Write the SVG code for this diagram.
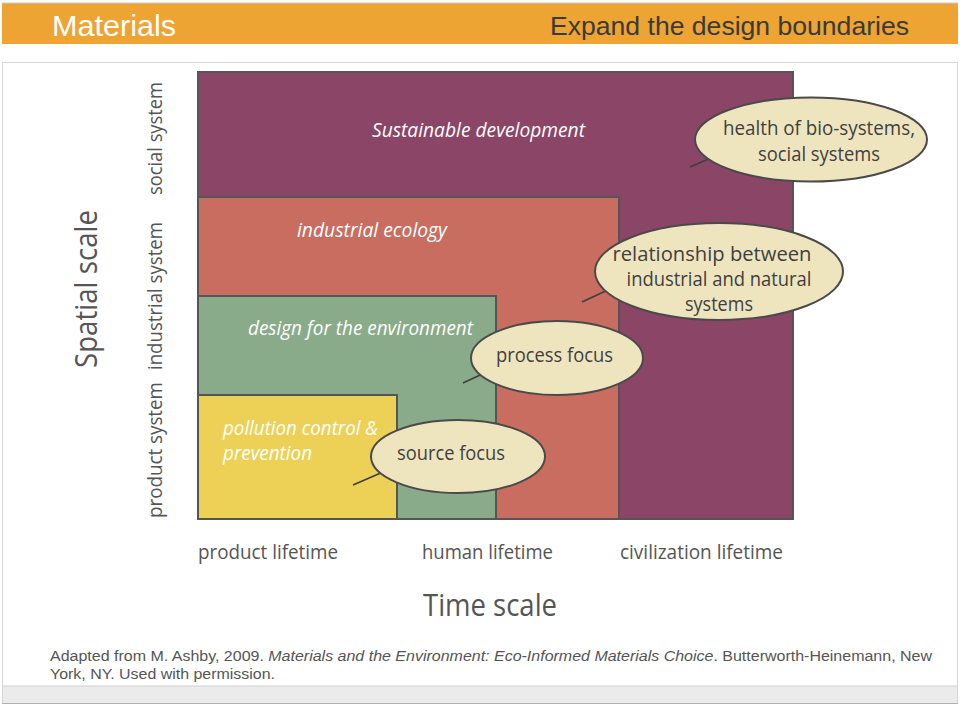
<svg xmlns="http://www.w3.org/2000/svg" width="960" height="720" viewBox="0 0 960 720">
<style>
.box{stroke:#555;stroke-width:2}
.bubble{fill:#EEE5BF;stroke:#4a4a4a;stroke-width:2}
.tail{stroke:#3f3f3f;stroke-width:1.6;fill:none}
.lab{font-family:"Open Sans","Noto Sans",sans-serif;font-style:italic;fill:#fff;font-size:20px}
.bt{font-family:"Open Sans","Noto Sans",sans-serif;fill:#3f3f3f;font-size:20px;text-anchor:middle}
.ax{font-family:"Open Sans","Noto Sans",sans-serif;fill:#555;font-size:20px}
.big{font-family:"Open Sans","Noto Sans",sans-serif;fill:#555;font-size:31px}
.foot{font-family:"Liberation Sans",Arial,sans-serif;fill:#555;font-size:15.5px}
</style>
<rect width="960" height="720" fill="#fff"/>
<g id="header">
<rect x="2" y="3" width="956" height="41" fill="#EDA433"/>
<line x1="2" y1="3" x2="958" y2="3" stroke="#c9c9c9" stroke-width="1"/>
<text x="52" y="36" font-family="'Liberation Sans',Arial,sans-serif" font-size="30" fill="#fff" textLength="124" lengthAdjust="spacingAndGlyphs">Materials</text>
<text x="550" y="35" font-family="'Liberation Sans',Arial,sans-serif" font-size="26.5" fill="#3a3a3a" textLength="359" lengthAdjust="spacingAndGlyphs">Expand the design boundaries</text>
</g>
<g id="panel">
<rect x="2.5" y="62.5" width="955" height="640" fill="#fff" stroke="#d6d6d6" stroke-width="1"/>
<rect x="3" y="686" width="954" height="17" fill="#ebebeb"/>
<line x1="3" y1="686" x2="957" y2="686" stroke="#d0d0d0" stroke-width="1"/>
<line x1="2" y1="703.5" x2="958" y2="703.5" stroke="#b0b0b0" stroke-width="1"/>
</g>
<g id="sustainable-development">
<rect class="box" x="198" y="72" width="595" height="447" fill="#8B4566"/>
<text class="lab" x="372" y="137" textLength="213" lengthAdjust="spacingAndGlyphs">Sustainable development</text>
</g>
<g id="industrial-ecology">
<rect class="box" x="198" y="197" width="421" height="322" fill="#C86D5F"/>
<text class="lab" x="297" y="237" textLength="150" lengthAdjust="spacingAndGlyphs">industrial ecology</text>
</g>
<g id="design-for-environment">
<rect class="box" x="198" y="296" width="298" height="223" fill="#8AAB8A"/>
<text class="lab" x="248" y="335" textLength="225" lengthAdjust="spacingAndGlyphs">design for the environment</text>
</g>
<g id="pollution-control">
<rect class="box" x="198" y="395" width="199" height="124" fill="#EDD156"/>
<text class="lab" x="223" y="435" textLength="155" lengthAdjust="spacingAndGlyphs">pollution control &amp;</text>
<text class="lab" x="223" y="460" textLength="89" lengthAdjust="spacingAndGlyphs">prevention</text>
</g>
<g id="connectors">
<line class="tail" x1="690" y1="167" x2="720" y2="154"/>
<line class="tail" x1="582" y1="302" x2="612" y2="288"/>
<line class="tail" x1="463" y1="383" x2="493" y2="369"/>
<line class="tail" x1="353" y1="485" x2="383" y2="472"/>
</g>
<g id="bubble-health">
<ellipse class="bubble" cx="811" cy="139.5" rx="116" ry="42"/>
<text class="bt" x="819" y="135" textLength="192" lengthAdjust="spacingAndGlyphs">health of bio-systems,</text>
<text class="bt" x="819" y="161" textLength="122" lengthAdjust="spacingAndGlyphs">social systems</text>
</g>
<g id="bubble-relationship">
<ellipse class="bubble" cx="719" cy="271.5" rx="124" ry="48.5"/>
<text class="bt" x="712" y="261" textLength="199" lengthAdjust="spacingAndGlyphs">relationship between</text>
<text class="bt" x="719" y="286" textLength="185" lengthAdjust="spacingAndGlyphs">industrial and natural</text>
<text class="bt" x="719" y="311" textLength="68" lengthAdjust="spacingAndGlyphs">systems</text>
</g>
<g id="bubble-process">
<ellipse class="bubble" cx="557" cy="358" rx="86" ry="37"/>
<text class="bt" x="554.5" y="362" textLength="117" lengthAdjust="spacingAndGlyphs">process focus</text>
</g>
<g id="bubble-source">
<ellipse class="bubble" cx="458" cy="456.5" rx="87" ry="36.5"/>
<text class="bt" x="451" y="460" textLength="108" lengthAdjust="spacingAndGlyphs">source focus</text>
</g>
<g id="spatial-axis">
<text class="big" transform="translate(97,289) rotate(-90)" text-anchor="middle" textLength="158" lengthAdjust="spacingAndGlyphs">Spatial scale</text>
<text class="ax" transform="translate(162,138.5) rotate(-90)" text-anchor="middle" textLength="113" lengthAdjust="spacingAndGlyphs">social system</text>
<text class="ax" transform="translate(162,296) rotate(-90)" text-anchor="middle" textLength="148" lengthAdjust="spacingAndGlyphs">industrial system</text>
<text class="ax" transform="translate(162,450) rotate(-90)" text-anchor="middle" textLength="136" lengthAdjust="spacingAndGlyphs">product system</text>
</g>
<g id="time-axis">
<text class="ax" x="198" y="559" textLength="140" lengthAdjust="spacingAndGlyphs">product lifetime</text>
<text class="ax" x="422" y="559" textLength="131" lengthAdjust="spacingAndGlyphs">human lifetime</text>
<text class="ax" x="620" y="559" textLength="163" lengthAdjust="spacingAndGlyphs">civilization lifetime</text>
<text class="big" x="423" y="616" font-size="32" textLength="134" lengthAdjust="spacingAndGlyphs">Time scale</text>
</g>
<g id="footnote">
<text class="foot" x="50" y="661" textLength="882" lengthAdjust="spacingAndGlyphs">Adapted from M. Ashby, 2009. <tspan font-style="italic">Materials and the Environment: Eco-Informed Materials Choice</tspan>. Butterworth-Heinemann, New</text>
<text class="foot" x="50" y="679" textLength="225" lengthAdjust="spacingAndGlyphs">York, NY. Used with permission.</text>
</g>
</svg>
